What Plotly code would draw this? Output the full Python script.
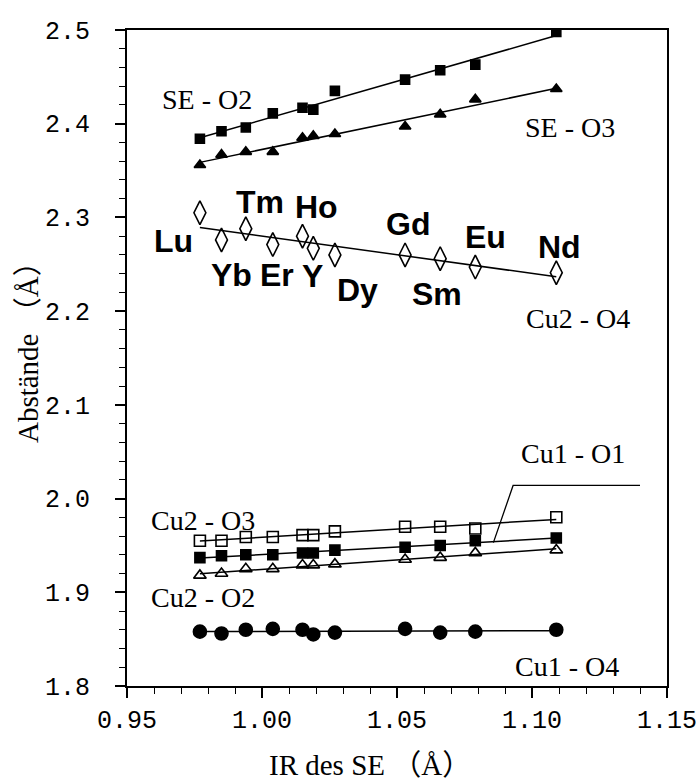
import numpy as np
import plotly.graph_objects as go

# ---------------- data ----------------
ionic_radius = [0.977, 0.985, 0.994, 1.004, 1.015, 1.019, 1.027, 1.053, 1.066, 1.079, 1.109]
elements = ["Lu", "Yb", "Tm", "Er", "Ho", "Y", "Dy", "Gd", "Sm", "Eu", "Nd"]

se_o2 = [2.384, 2.392, 2.396, 2.411, 2.417, 2.415, 2.435, 2.447, 2.457, 2.463, 2.498]
se_o3 = [2.356, 2.367, 2.370, 2.370, 2.385, 2.387, 2.389, 2.397, 2.410, 2.426, 2.437]
cu2_o4 = [2.305, 2.276, 2.288, 2.271, 2.280, 2.267, 2.260, 2.260, 2.256, 2.247, 2.241]
cu2_o3 = [1.955, 1.955, 1.959, 1.959, 1.961, 1.961, 1.965, 1.970, 1.970, 1.968, 1.980]
cu1_o1 = [1.937, 1.939, 1.940, 1.940, 1.942, 1.942, 1.945, 1.948, 1.950, 1.955, 1.958]
cu2_o2 = [1.918, 1.920, 1.925, 1.925, 1.929, 1.929, 1.930, 1.935, 1.937, 1.942, 1.945]
cu1_o4 = [1.858, 1.856, 1.860, 1.861, 1.860, 1.855, 1.857, 1.861, 1.857, 1.858, 1.860]

x_ticks = [0.95, 1.00, 1.05, 1.10, 1.15]
x_tick_labels = ["0.95", "1.00", "1.05", "1.10", "1.15"]
y_ticks = [1.8, 1.9, 2.0, 2.1, 2.2, 2.3, 2.4, 2.5]
y_tick_labels = ["1.8", "1.9", "2.0", "2.1", "2.2", "2.3", "2.4", "2.5"]

# element label anchors (data units)
element_label_x = [0.9674, 0.9888, 0.9991, 1.0057, 1.0202, 1.0188, 1.0353, 1.054, 1.0649, 1.0829, 1.110]
element_label_y = [2.275, 2.239, 2.316, 2.239, 2.311, 2.2375, 2.223, 2.293, 2.218, 2.279, 2.268]

bond_labels = ["SE - O2", "SE - O3", "Cu2 - O4", "Cu1 - O1", "Cu2 - O3", "Cu2 - O2", "Cu1 - O4"]
bond_label_x = [0.9797, 1.114, 1.117, 1.115, 0.978, 0.978, 1.113]
bond_label_y = [2.426, 2.396, 2.192, 2.048, 1.977, 1.894, 1.821]

pointer_x = [1.140, 1.093, 1.0857]
pointer_y = [2.014, 2.014, 1.953]

# ---------------- figure ----------------
fig = go.Figure()

series = [
    (se_o2, "square", 9),
    (se_o3, "triangle-up", 10),
    (cu2_o4, "diamond-tall-open", 17),
    (cu2_o3, "square-open", 11),
    (cu1_o1, "square", 10),
    (cu2_o2, "triangle-up-open", 11),
    (cu1_o4, "circle", 13),
]

x_arr = np.array(ionic_radius)
x_line = np.array([x_arr.min(), x_arr.max()])
for vals, sym, size in series:
    k, d = np.polyfit(x_arr, np.array(vals), 1)
    fig.add_trace(go.Scatter(x=x_line, y=k * x_line + d, mode="lines",
                             line=dict(color="black", width=1.5),
                             showlegend=False, hoverinfo="skip"))
for vals, sym, size in series:
    fig.add_trace(go.Scatter(x=ionic_radius, y=vals, mode="markers",
                             marker=dict(symbol=sym, size=size, color="black",
                                         line=dict(color="black", width=1.6)),
                             showlegend=False))

fig.add_trace(go.Scatter(x=pointer_x, y=pointer_y, mode="lines",
                         line=dict(color="black", width=1.3),
                         showlegend=False, hoverinfo="skip"))

for name, lx, ly in zip(elements, element_label_x, element_label_y):
    fig.add_annotation(x=lx, y=ly, text="<b>%s</b>" % name, showarrow=False,
                       font=dict(family="Liberation Sans", size=32, color="black"))

for name, lx, ly in zip(bond_labels, bond_label_x, bond_label_y):
    fig.add_annotation(x=lx, y=ly, text=name, showarrow=False,
                       font=dict(family="Liberation Serif", size=28, color="black"))

title_font = dict(family="Liberation Serif, Noto Sans CJK JP", size=29, color="black")
fig.add_annotation(xref="paper", yref="paper", x=-0.183, y=0.52,
                   xanchor="center", yanchor="middle",
                   text="Abstände （Å）", textangle=-90, showarrow=False,
                   font=title_font)
fig.add_annotation(xref="paper", yref="paper", x=0.45, y=-0.12,
                   xanchor="center", yanchor="middle",
                   text="IR des SE （Å）", showarrow=False,
                   font=title_font)

tickfont = dict(family="Liberation Mono", size=25, color="black")
fig.update_xaxes(range=[0.95, 1.15], tickvals=x_ticks, ticktext=x_tick_labels,
                 ticklabeloverflow="allow", automargin=False,
                 ticks="outside", ticklen=10, tickwidth=1.5, tickcolor="black",
                 minor=dict(dtick=0.01, ticks="outside", ticklen=6, tickwidth=1.2, tickcolor="black"),
                 showline=True, linecolor="black", linewidth=2, mirror=True,
                 showgrid=False, zeroline=False, tickfont=tickfont)
fig.update_yaxes(range=[1.8, 2.5], tickvals=y_ticks, ticktext=y_tick_labels,
                 automargin=False,
                 ticks="outside", ticklen=10, tickwidth=1.5, tickcolor="black",
                 ticklabelstandoff=20,
                 minor=dict(dtick=0.02, ticks="outside", ticklen=6, tickwidth=1.2, tickcolor="black"),
                 showline=True, linecolor="black", linewidth=2, mirror=True,
                 showgrid=False, zeroline=False, tickfont=tickfont)

fig.update_layout(width=696, height=783, margin=dict(l=127, r=29, t=30, b=97),
                  plot_bgcolor="white", paper_bgcolor="white")

fig.write_html("out.html")
